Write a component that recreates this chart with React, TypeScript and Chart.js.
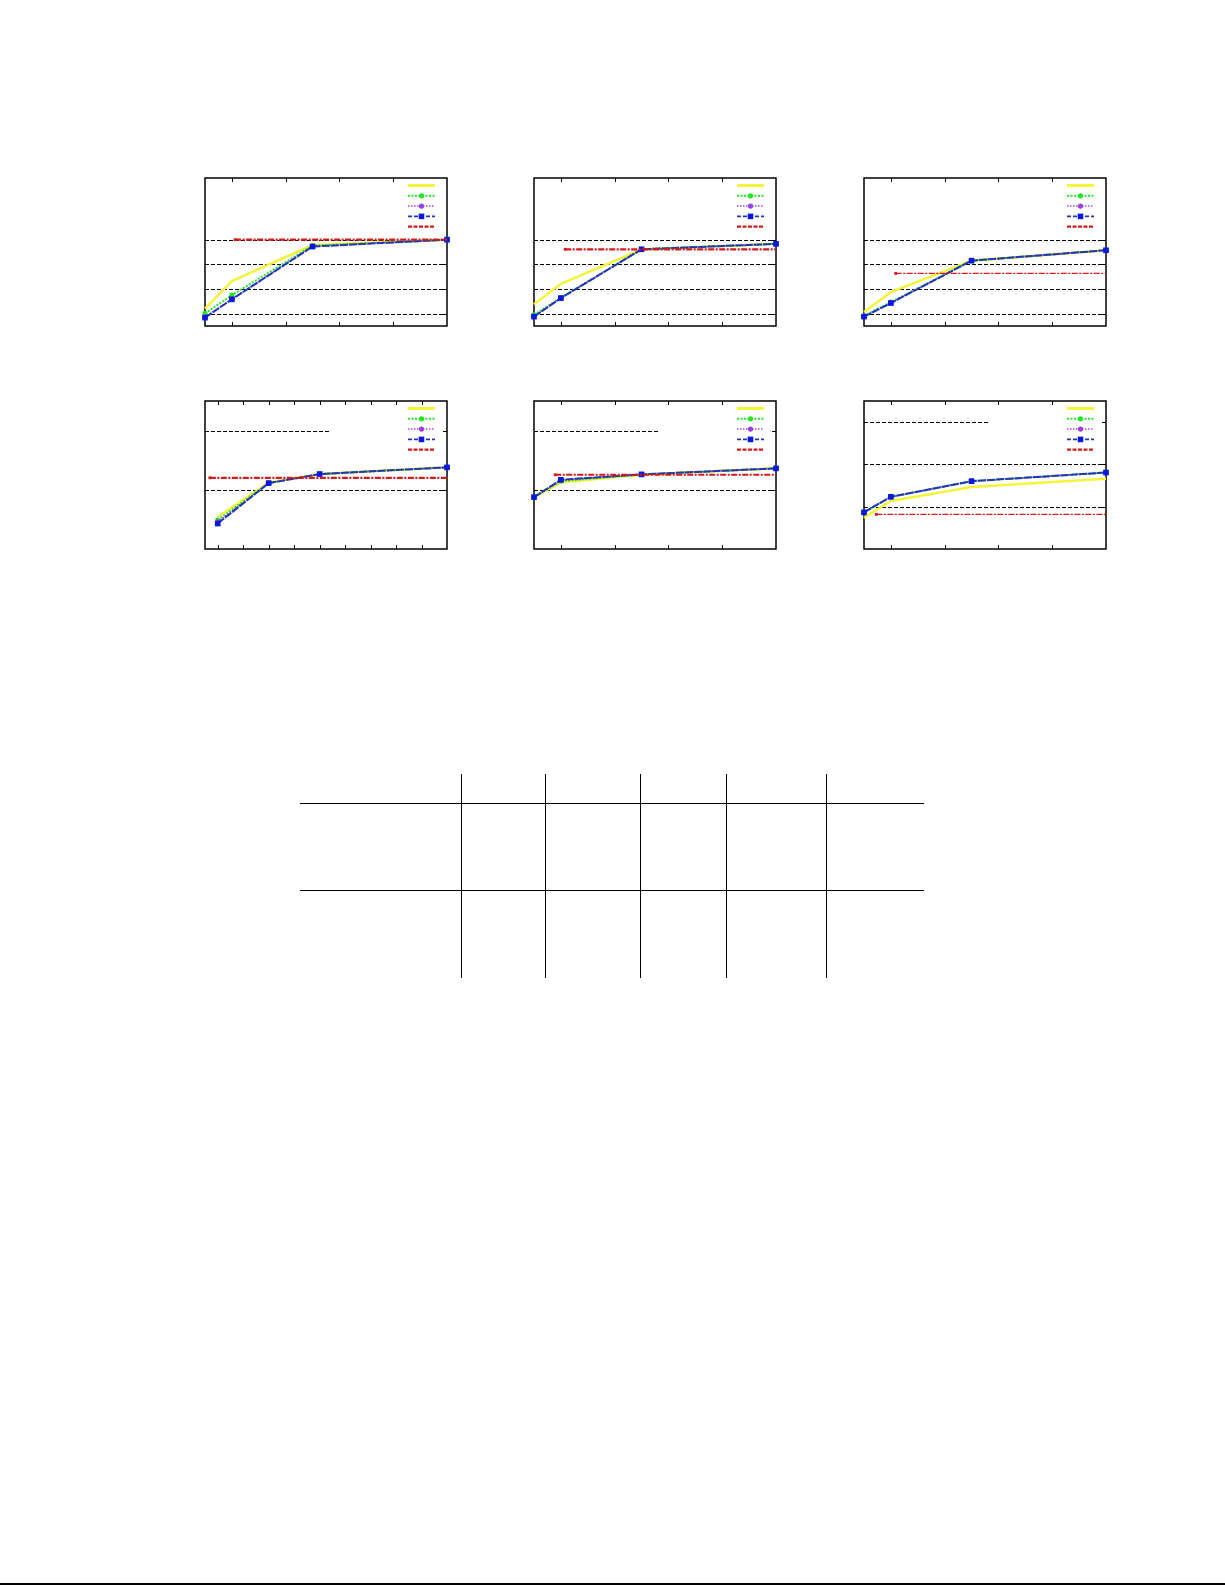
import React, { useEffect, useRef } from 'react';
import { Chart, registerables } from 'chart.js';

Chart.register(...registerables);

// x positions of the measured points
const xShort = [-0.5, 0, 1.5, 4];
const xLong = [0, 2, 4, 9];

// panel 1
const p1Yellow = [0.52, 0.632, 0.778, 0.8];
const p1Green = [0.501, 0.575, 0.776, 0.799];
const p1Purple = [0.486, 0.56, 0.773, 0.8];
const p1Blue = [0.484, 0.558, 0.772, 0.8];
const p1Red = [0.06, 0.8];

// panel 2
const p2Yellow = [0.538, 0.621, 0.76, 0.783];
const p2Green = [0.495, 0.565, 0.761, 0.783];
const p2Purple = [0.489, 0.564, 0.761, 0.783];
const p2Blue = [0.488, 0.563, 0.761, 0.783];
const p2Red = [0.08, 0.761];

// panel 3
const p3Yellow = [0.507, 0.587, 0.715, 0.757];
const p3Green = [0.491, 0.547, 0.715, 0.757];
const p3Purple = [0.489, 0.544, 0.715, 0.757];
const p3Blue = [0.488, 0.543, 0.715, 0.757];
const p3Red = [0.09, 0.663];

// panel 4
const p4Yellow = [0.54, 1.12, 1.266, 1.379];
const p4Green = [0.49, 1.113, 1.266, 1.379];
const p4Purple = [0.46, 1.113, 1.266, 1.379];
const p4Blue = [0.43, 1.113, 1.266, 1.379];
const p4Red = [-0.31, 1.203];

// panel 5
const p5Yellow = [0.876, 1.124, 1.254, 1.362];
const p5Green = [0.876, 1.147, 1.26, 1.362];
const p5Purple = [0.876, 1.165, 1.26, 1.362];
const p5Blue = [0.876, 1.169, 1.26, 1.362];
const p5Red = [-0.105, 1.254];

// panel 6
const p6Yellow = [0.74, 1.137, 1.467, 1.663];
const p6Green = [0.867, 1.235, 1.604, 1.808];
const p6Purple = [0.867, 1.235, 1.604, 1.808];
const p6Blue = [0.867, 1.235, 1.604, 1.808];
const p6Red = [-0.27, 0.82];

// axis tick values
const ticksShort = [0, 1, 2, 3];
const ticksLong = [0, 1, 2, 3, 4, 5, 6, 7, 8];
const gridTop = [0.5, 0.6, 0.7, 0.8];
const gridMid = [1, 2];
const gridWide = [1, 2, 3];

const PAD = 8;
const PLOT_W = 242;
const PLOT_H = 148;

type PanelDef = {
  left: number;
  top: number;
  xs: number[];
  xMax: number;
  xTicks: number[];
  yMin: number;
  yMax: number;
  yGrid: number[];
  yellow: number[];
  green: number[];
  purple: number[];
  blue: number[];
  red: number[];
  redThin: boolean;
};

const panels: PanelDef[] = [
  { left: 205, top: 178, xs: xShort, xMax: 4, xTicks: ticksShort, yMin: 0.45, yMax: 1.05, yGrid: gridTop,
    yellow: p1Yellow, green: p1Green, purple: p1Purple, blue: p1Blue, red: p1Red, redThin: false },
  { left: 534, top: 178, xs: xShort, xMax: 4, xTicks: ticksShort, yMin: 0.45, yMax: 1.05, yGrid: gridTop,
    yellow: p2Yellow, green: p2Green, purple: p2Purple, blue: p2Blue, red: p2Red, redThin: false },
  { left: 864, top: 178, xs: xShort, xMax: 4, xTicks: ticksShort, yMin: 0.45, yMax: 1.05, yGrid: gridTop,
    yellow: p3Yellow, green: p3Green, purple: p3Purple, blue: p3Blue, red: p3Red, redThin: true },
  { left: 205, top: 401, xs: xLong, xMax: 9, xTicks: ticksLong, yMin: 0, yMax: 2.5, yGrid: gridMid,
    yellow: p4Yellow, green: p4Green, purple: p4Purple, blue: p4Blue, red: p4Red, redThin: false },
  { left: 534, top: 401, xs: xShort, xMax: 4, xTicks: ticksShort, yMin: 0, yMax: 2.5, yGrid: gridMid,
    yellow: p5Yellow, green: p5Green, purple: p5Purple, blue: p5Blue, red: p5Red, redThin: false },
  { left: 864, top: 401, xs: xShort, xMax: 4, xTicks: ticksShort, yMin: 0, yMax: 3.5, yGrid: gridWide,
    yellow: p6Yellow, green: p6Green, purple: p6Purple, blue: p6Blue, red: p6Red, redThin: true },
];

const pts = (xs: number[], ys: number[]) => xs.map((x, i) => ({ x, y: ys[i] }));

// frame, inward ticks, dashed grid, opaque key box and key samples
const framePlugin = (xTicks: number[], yGrid: number[]) => ({
  id: 'frame',
  beforeDatasetsDraw(chart: any) {
    const { ctx, chartArea: a, scales } = chart;
    const line = (x1: number, y1: number, x2: number, y2: number) => {
      ctx.beginPath();
      ctx.moveTo(x1, y1);
      ctx.lineTo(x2, y2);
      ctx.stroke();
    };
    ctx.save();
    ctx.strokeStyle = '#000';
    ctx.lineWidth = 1;
    ctx.setLineDash([4, 2]);
    yGrid.forEach((v) => {
      const py = Math.round(scales.y.getPixelForValue(v)) + 0.5;
      line(a.left, py, a.right, py);
    });
    ctx.setLineDash([]);
    ctx.fillStyle = '#fff';
    ctx.fillRect(a.left + 124, a.top + 1, a.right - a.left - 125, 55);
    xTicks.forEach((v) => {
      const px = Math.round(scales.x.getPixelForValue(v)) + 0.5;
      line(px, a.top, px, a.top + 4);
      line(px, a.bottom, px, a.bottom - 4);
    });
    yGrid.forEach((v) => {
      const py = Math.round(scales.y.getPixelForValue(v)) + 0.5;
      line(a.left, py, a.left + 4, py);
      line(a.right, py, a.right - 4, py);
    });
    ctx.lineWidth = 1.5;
    ctx.strokeRect(a.left, a.top, a.right - a.left, a.bottom - a.top);
    ctx.restore();
  },
  afterDatasetsDraw(chart: any) {
    const { ctx, chartArea: a } = chart;
    ctx.save();
    chart.data.datasets.forEach((ds: any, i: number) => {
      const y = a.top + 7.5 + 10.3 * i;
      const x1 = a.right - 39;
      const x2 = a.right - 12;
      ctx.strokeStyle = ds.borderColor;
      ctx.lineWidth = ds.keyWidth;
      ctx.setLineDash(ds.keyDash || ds.borderDash || []);
      ctx.beginPath();
      ctx.moveTo(x1, y);
      ctx.lineTo(x2, y);
      ctx.stroke();
      ctx.setLineDash([]);
      const cx = (x1 + x2) / 2;
      ctx.fillStyle = ds.pointBackgroundColor;
      if (ds.keyMark === 'circle') {
        ctx.beginPath();
        ctx.arc(cx, y, 2.6, 0, Math.PI * 2);
        ctx.fill();
      } else if (ds.keyMark === 'rect') {
        ctx.fillRect(cx - 2.8, y - 2.8, 5.6, 5.6);
      }
    });
    ctx.restore();
  },
});

const Panel: React.FC<{ def: PanelDef }> = ({ def }) => {
  const ref = useRef<HTMLCanvasElement>(null);
  useEffect(() => {
    if (!ref.current) return;
    const chart = new Chart(ref.current, {
      type: 'line',
      data: {
        datasets: [
          {
            data: pts(def.xs, def.yellow), borderColor: '#f4f43a', borderWidth: 2.5, keyWidth: 3,
            pointRadius: 0, order: 5, clip: false,
          },
          {
            data: pts(def.xs, def.green), borderColor: '#2ae62a', borderWidth: 2, borderDash: [2, 1.5], keyWidth: 2,
            pointStyle: 'circle', pointRadius: 2.6, pointBackgroundColor: '#22e622', pointBorderWidth: 0,
            keyMark: 'circle', order: 4, clip: false,
          },
          {
            data: pts(def.xs, def.purple), borderColor: '#a048e0', borderWidth: 1.5, borderDash: [1.5, 1.5], keyWidth: 1.5,
            pointStyle: 'circle', pointRadius: 2.6, pointBackgroundColor: '#9a40dc', pointBorderWidth: 0,
            keyMark: 'circle', order: 3, clip: false,
          },
          {
            data: pts(def.xs, def.blue), borderColor: '#2236b4', borderWidth: 2, borderDash: [8, 1.2], keyWidth: 1.6,
            keyDash: [4, 2],
            pointStyle: 'rect', pointRadius: 4, pointBackgroundColor: '#0a18dc', pointBorderWidth: 0,
            keyMark: 'rect', order: 2, clip: false,
          },
          {
            data: [{ x: def.red[0], y: def.red[1] }, { x: def.xMax, y: def.red[1] }],
            borderColor: '#d41a1a', borderWidth: def.redThin ? 1.2 : 2.2, borderDash: [6, 1.5, 2, 1.5], keyWidth: 2.2,
            keyDash: [4, 1.5],
            pointStyle: 'rect', pointRadius: [2, 0], pointBackgroundColor: '#d41a1a', pointBorderWidth: 0,
            keyMark: 'none', order: 1, clip: false,
          },
        ] as any,
      },
      options: {
        animation: false,
        responsive: false,
        events: [],
        layout: { padding: PAD },
        elements: { line: { tension: 0 } },
        plugins: { legend: { display: false }, tooltip: { enabled: false } },
        scales: {
          x: { type: 'linear', min: -0.5, max: def.xMax, display: false },
          y: { type: 'linear', min: def.yMin, max: def.yMax, display: false },
        },
      },
      plugins: [framePlugin(def.xTicks, def.yGrid)],
    });
    return () => chart.destroy();
  }, [def]);
  return (
    <canvas
      ref={ref}
      width={PLOT_W + 2 * PAD}
      height={PLOT_H + 2 * PAD}
      style={{ position: 'absolute', left: def.left - PAD, top: def.top - PAD, width: PLOT_W + 2 * PAD, height: PLOT_H + 2 * PAD }}
    />
  );
};

// table rules below the figure
const tableCols = [300, 461, 545, 640, 726, 826, 924];
const tableRules = [803, 890];
const TABLE_TOP = 774;
const TABLE_BOTTOM = 978;

const App: React.FC = () => (
  <div style={{ position: 'absolute', left: 0, top: 0, width: 1225, height: 1585, background: '#fff', overflow: 'hidden' }}>
    {panels.map((p, i) => (
      <Panel key={i} def={p} />
    ))}
    {tableCols.slice(1, -1).map((x) => (
      <div key={'v' + x} style={{ position: 'absolute', left: x, top: TABLE_TOP, width: 1, height: TABLE_BOTTOM - TABLE_TOP, background: '#000' }} />
    ))}
    {tableRules.map((y) => (
      <div key={'h' + y} style={{ position: 'absolute', left: tableCols[0], top: y, width: tableCols[6] - tableCols[0], height: 1, background: '#000' }} />
    ))}
    <div style={{ position: 'absolute', left: 0, top: 1583, width: 1225, height: 2, background: '#000' }} />
  </div>
);

export default App;
